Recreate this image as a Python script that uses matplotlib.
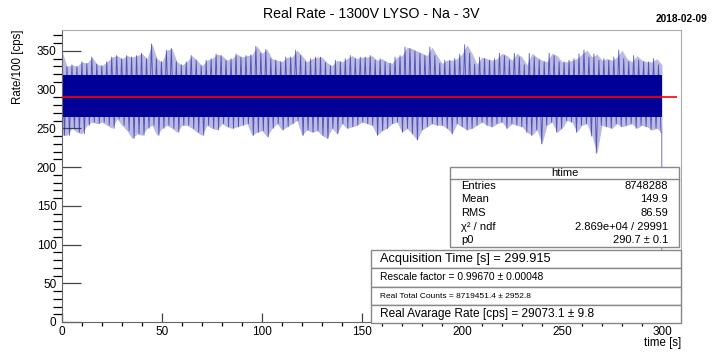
import numpy as np
import matplotlib
matplotlib.use("Agg")
import matplotlib.pyplot as plt
from matplotlib.patches import Rectangle

plt.rcParams["font.family"] = ["Liberation Sans", "DejaVu Sans"]

# envelope of the rate histogram, read every 2.5 s
t_env = np.arange(0, 300.01, 2.5)
upper = [
    350, 330, 332, 330, 336, 334, 342, 333, 331, 336, 342, 344, 340, 344, 342, 344, 347, 340, 359, 340, 336, 351, 353, 336, 332,
    336, 344, 338, 331, 338, 340, 346, 344, 338, 340, 346, 342, 344, 345, 356, 347, 352, 340, 338, 336, 342, 342, 351, 344, 336,
    340, 342, 342, 335, 331, 338, 336, 340, 344, 340, 342, 342, 344, 338, 340, 336, 334, 342, 344, 355, 353, 350, 347, 344, 355,
    344, 334, 338, 338, 340, 346, 358, 347, 333, 342, 340, 338, 340, 347, 344, 338, 347, 342, 332, 347, 342, 338, 336, 347, 344,
    336, 336, 338, 340, 346, 351, 342, 346, 338, 340, 338, 342, 351, 340, 336, 344, 338, 336, 336, 340, 332,
]
lower = [
    241, 241, 250, 245, 243, 254, 258, 256, 258, 254, 250, 262, 254, 247, 237, 243, 241, 250, 254, 241, 250, 254, 250, 245, 254,
    254, 250, 245, 241, 254, 250, 248, 256, 252, 250, 252, 254, 256, 241, 245, 247, 239, 250, 256, 248, 252, 256, 260, 241, 248,
    245, 247, 241, 237, 250, 243, 256, 250, 252, 254, 258, 256, 254, 241, 247, 250, 256, 258, 245, 250, 243, 235, 248, 252, 256,
    254, 254, 250, 243, 256, 252, 248, 250, 254, 258, 254, 252, 256, 258, 250, 256, 254, 252, 245, 241, 248, 230, 254, 258, 245,
    250, 260, 258, 245, 254, 256, 240, 218, 254, 252, 250, 256, 252, 254, 256, 250, 254, 252, 248, 250, 245,
]
core_hi = 319
core_lo = 265
# last (partial) bin falls to zero
tail_t = 299.92
tail_v = 0

p0 = 290.7
fit_range = [0, 307.5]

stat_names = ["Entries", "Mean", "RMS", "\u03c7\u00b2 / ndf", "p0"]
stat_values = ["8748288", "149.9", "86.59", "2.869e+04 / 29991", "290.7 \u00b1 0.1"]
info_lines = [
    ("Acquisition Time [s] = 299.915", 9.2),
    ("Rescale factor = 0.99670 \u00b1 0.00048", 7.4),
    ("Real Total Counts = 8719451.4 \u00b1 2952.8", 6.0),
    ("Real Avarage Rate [cps] = 29073.1 \u00b1 9.8", 8.6),
]

W, H = 716, 353
fig = plt.figure(figsize=(W / 100, H / 100), dpi=100)
ax = fig.add_axes([62 / W, 1 - 322 / H, (681 - 62) / W, (322 - 30) / H])

blue = "#000099"
# pale halo where the hairs thin out, then the spikes, then the solid core
ax.fill_between(t_env, lower, upper, color="#3030a8", alpha=0.33, lw=0, zorder=1.5)
vals = np.empty(2 * len(upper))
vals[0::2] = upper
vals[1::2] = lower
xs = np.linspace(0, 299.5, len(vals))
xs = np.append(xs, [299.9, tail_t])
vals = np.append(vals, [lower[-1], tail_v])
ax.plot(xs, vals, color="#2424a6", lw=0.65, alpha=0.7, zorder=2)
ax.fill_between(t_env, core_lo, core_hi, color=blue, lw=0, zorder=2.5)
ax.hlines(p0, fit_range[0], fit_range[1], color="red", lw=1.2, zorder=3)

ax.set_xlim(0, 309.5)
ax.set_ylim(0, 377)
ax.set_xticks(np.arange(0, 301, 50))
ax.set_xticks(np.arange(0, 301, 10), minor=True)
ax.set_yticks(np.arange(0, 351, 50))
ax.set_yticks(np.arange(0, 371, 10), minor=True)
ax.tick_params(direction="in", colors="#444444", labelcolor="black", labelsize=8.5)
ax.tick_params(axis="y", which="major", length=13.5, width=0.9, pad=4)
ax.tick_params(axis="y", which="minor", length=6.7, width=0.9)
ax.tick_params(axis="x", which="major", length=6.5, width=0.9, pad=3)
ax.tick_params(axis="x", which="minor", length=3.2, width=0.9)
for s in ["left", "bottom"]:
    ax.spines[s].set_color("#666666")
for s in ["top", "right"]:
    ax.spines[s].set_color("#aaaaaa")

fig.text(371 / W, 1 - 14 / H, "Real Rate - 1300V LYSO - Na - 3V", ha="center", va="center", fontsize=10.2)
fig.text(707 / W, 1 - 19 / H, "2018-02-09", ha="right", va="center", fontsize=7.3, fontweight="bold")
fig.text(18 / W, 1 - 30 / H, "Rate/100 [cps]", rotation=90, ha="center", va="top", fontsize=8.3)
fig.text(681 / W, 1 - 343 / H, "time [s]", ha="right", va="center", fontsize=8.3)


def box(x0, y0, x1, y1):
    fig.add_artist(Rectangle((x0 / W, 1 - y1 / H), (x1 - x0) / W, (y1 - y0) / H,
                             transform=fig.transFigure, facecolor="white",
                             edgecolor="#888888", lw=1.0, zorder=2))


# stats box
box(450, 167, 679, 247)
fig.add_artist(plt.Line2D([450 / W, 679 / W], [1 - 179 / H, 1 - 179 / H],
                          transform=fig.transFigure, color="#888888", lw=1.0, zorder=3))
fig.text(565 / W, 1 - 173 / H, "htime", ha="center", va="center", fontsize=8, zorder=4)
row_y = [186, 199, 213, 227, 240]
for name, val, y in zip(stat_names, stat_values, row_y):
    fig.text(461 / W, 1 - y / H, name, ha="left", va="center", fontsize=8, zorder=4)
    fig.text(668 / W, 1 - y / H, val, ha="right", va="center", fontsize=8, zorder=4)

# result boxes under the stats
rows = [250, 268, 287, 305, 323]
for i, (txt, fs) in enumerate(info_lines):
    box(371, rows[i], 681, rows[i + 1])
    fig.text(380 / W, 1 - (rows[i] + rows[i + 1]) / 2 / H, txt, ha="left", va="center",
             fontsize=fs, zorder=4)

fig.savefig("out.png", dpi=100)
